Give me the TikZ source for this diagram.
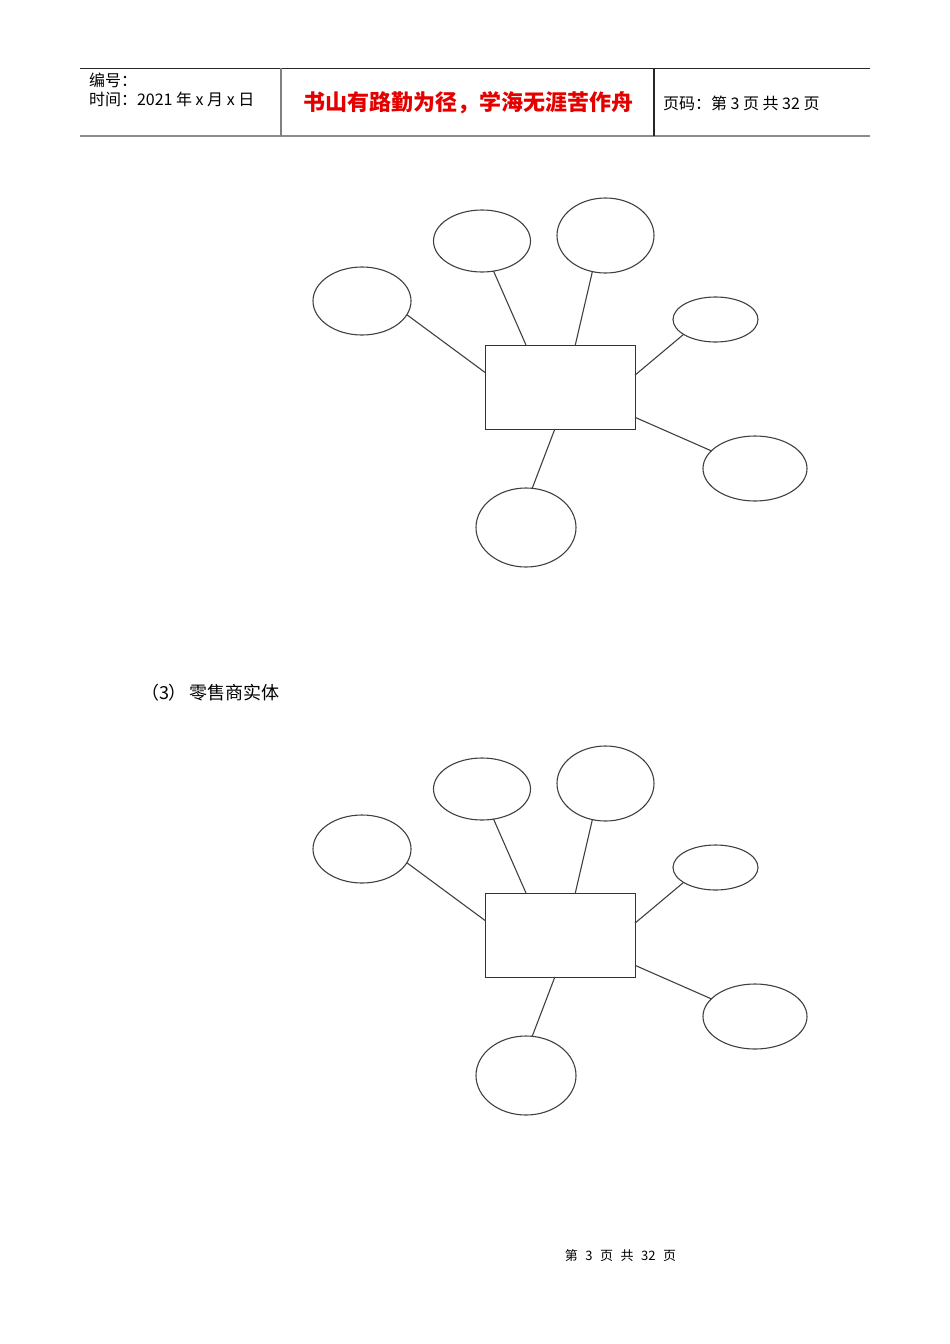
\documentclass[tikz,border=0pt]{standalone}
\usepackage{fontspec}
\newfontfamily\cjk{Noto Sans CJK SC}
\usetikzlibrary{shapes,arrows}

\begin{document}
\begin{tikzpicture}[x=1pt,y=-1pt]
\tikzstyle{every node} = [inner sep=0pt, outer sep=0pt]
\tikzstyle{attr} = [draw=black!75, shape=ellipse, line width=1.1pt]
\tikzstyle{entity} = [draw=black!80, shape=rectangle, line width=1pt, minimum width=150pt, minimum height=84pt]
\tikzstyle{link} = [-, draw=black!75, line width=1.1pt]
\useasboundingbox (0,0) rectangle (950,1344);

% header
\draw [black!85, line width=1pt] (80,68) -- (870,68);
\draw [black!45, line width=2pt] (80,136) -- (870,136);
\draw [black!50, line width=1.2pt] (281,68) -- (281,136);
\draw [black!85, line width=1.2pt] (654,68) -- (654,136);
\node [anchor=west, font=\cjk\fontsize{16}{16}\selectfont] (num) at (89,80) {编号：};
\node [anchor=west, font=\cjk\fontsize{16}{16}\selectfont] (date) at (89,99) {时间：2021 年 x 月 x 日};
\node [font=\cjk\bfseries\fontsize{22}{22}\selectfont, text=red!90!black] (motto) at (468,103) {书山有路勤为径，学海无涯苦作舟};
\node [anchor=west, font=\cjk\fontsize{16}{16}\selectfont] (page) at (663,103) {页码：第 3 页 共 32 页};

% first diagram
\node [entity] (r) at (560,387) {};
\node [attr, minimum width=98pt, minimum height=68pt] (a) at (362,301) {};
\node [attr, minimum width=97pt, minimum height=62pt] (b) at (482,241) {};
\node [attr, minimum width=97pt, minimum height=75pt] (c) at (605.5,235.5) {};
\node [attr, minimum width=85pt, minimum height=45pt] (d) at (715.5,319.5) {};
\node [attr, minimum width=104pt, minimum height=65pt] (e) at (755,468.5) {};
\node [attr, minimum width=100pt, minimum height=79pt] (f) at (526,527.5) {};
\draw [link] (a.-17.6) -- (r.169.4);
\draw [link] (b.-69.9) -- (r.129);
\draw [link] (c.250.2) -- (r.70.3);
\draw [link] (d.205.5) -- (r.9.8);
\draw [link] (e.158.3) -- (r.-22.5);
\draw [link] (f.81.4) -- (r.263.2);

\node [anchor=west, font=\cjk\fontsize{18}{18}\selectfont] (title) at (141,693) {（3）\hspace{3pt}零售商实体};

% second diagram
\node [entity] (r2) at (560,935) {};
\node [attr, minimum width=98pt, minimum height=68pt] (a2) at (362,849) {};
\node [attr, minimum width=97pt, minimum height=62pt] (b2) at (482,789) {};
\node [attr, minimum width=97pt, minimum height=75pt] (c2) at (605.5,783.5) {};
\node [attr, minimum width=85pt, minimum height=45pt] (d2) at (715.5,867.5) {};
\node [attr, minimum width=104pt, minimum height=65pt] (e2) at (755,1016.5) {};
\node [attr, minimum width=100pt, minimum height=79pt] (f2) at (526,1075.5) {};
\draw [link] (a2.-17.6) -- (r2.169.4);
\draw [link] (b2.-69.9) -- (r2.129);
\draw [link] (c2.250.2) -- (r2.70.3);
\draw [link] (d2.205.5) -- (r2.9.8);
\draw [link] (e2.158.3) -- (r2.-22.5);
\draw [link] (f2.81.4) -- (r2.263.2);

% footer
\node [font=\cjk\fontsize{13}{13}\selectfont] (foot) at (620.5,1256) {第\hspace{7.5pt}3\hspace{7.5pt}页\hspace{7.5pt}共\hspace{7.5pt}32\hspace{7.5pt}页};
\end{tikzpicture}
\end{document}
